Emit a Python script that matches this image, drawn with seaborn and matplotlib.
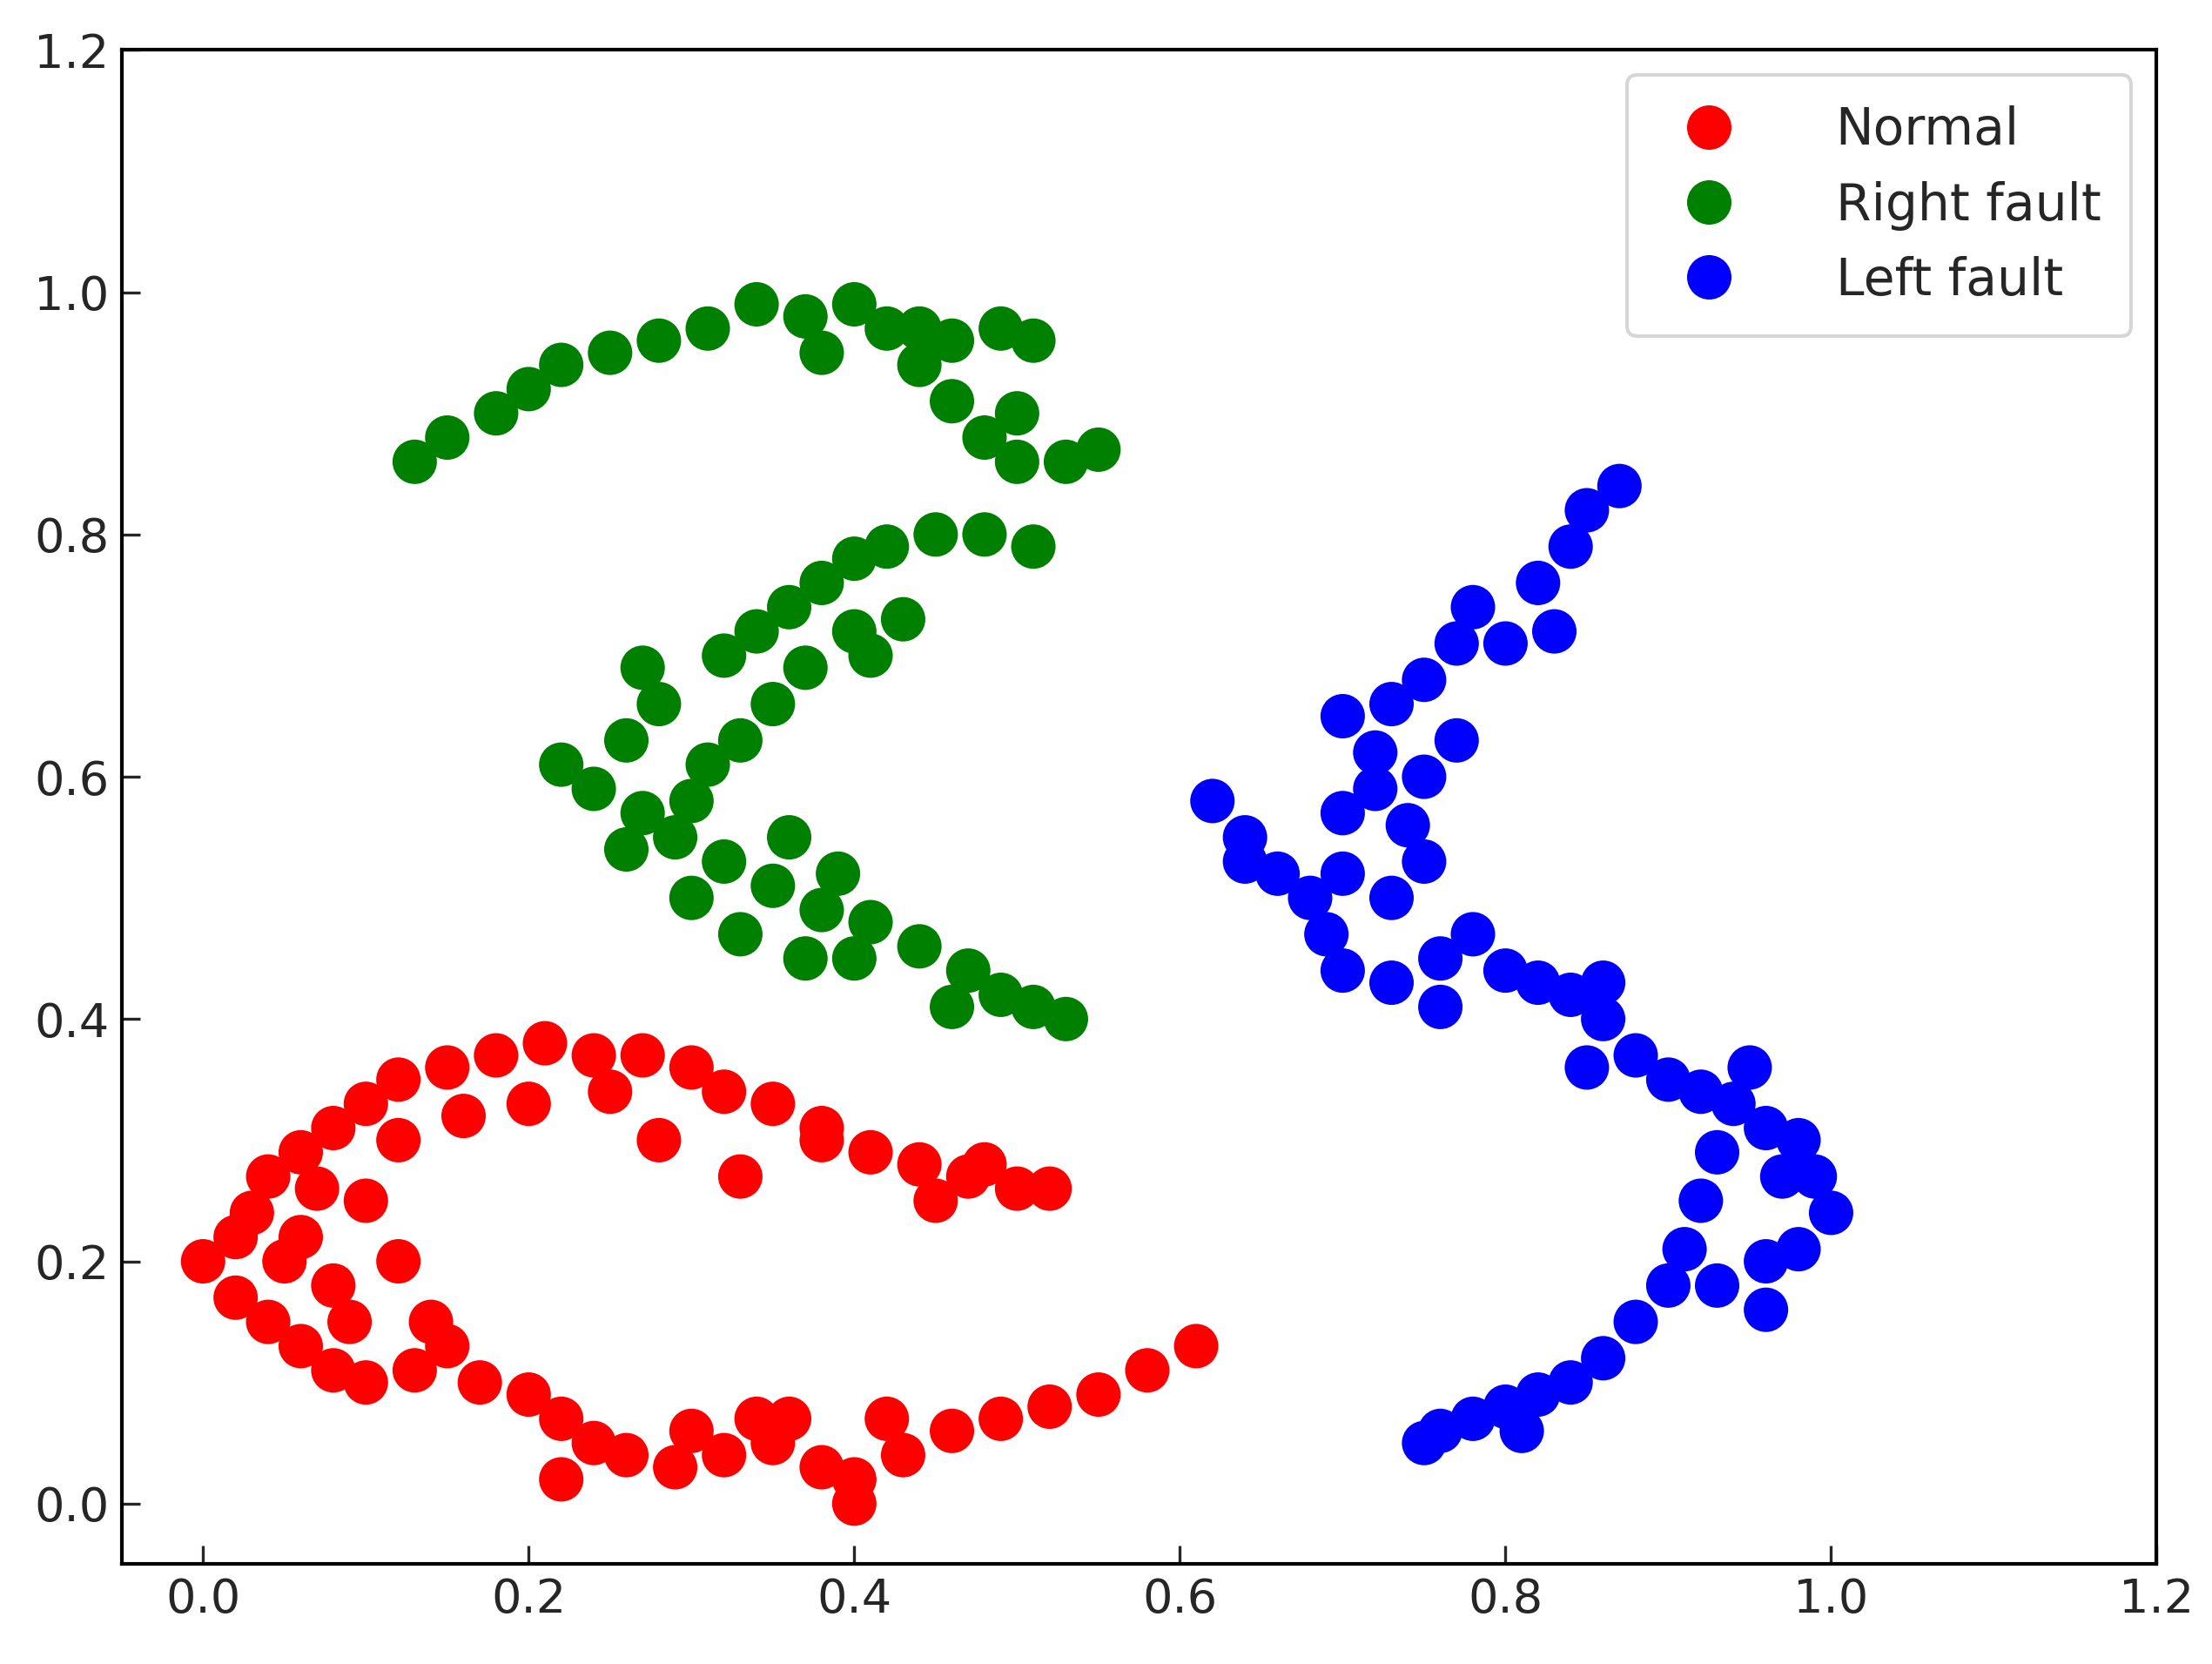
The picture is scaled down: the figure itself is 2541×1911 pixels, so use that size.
import numpy as np
import pandas as pd
import matplotlib
matplotlib.use("Agg")
import matplotlib.pyplot as plt
import seaborn as sns

# points, traced along each band
normal_x = [0.52, 0.50, 0.47, 0.44, 0.41, 0.38, 0.35, 0.32, 0.30, 0.27, 0.24, 0.21, 0.18, 0.15, 0.12,
            0.10, 0.08, 0.06, 0.04, 0.03, 0.02, 0.00, 0.02, 0.04, 0.06, 0.08, 0.10, 0.13, 0.15, 0.17,
            0.20, 0.22, 0.24, 0.26, 0.29, 0.32, 0.35, 0.38, 0.40, 0.43, 0.46, 0.49, 0.52, 0.55, 0.58,
            0.61, 0.06, 0.08, 0.10, 0.12, 0.20, 0.25, 0.22, 0.30, 0.36, 0.40, 0.12, 0.07, 0.33, 0.45,
            0.48, 0.05, 0.16, 0.28, 0.38, 0.14, 0.09, 0.42, 0.34]
normal_y = [0.26, 0.26, 0.27, 0.28, 0.29, 0.31, 0.33, 0.34, 0.36, 0.37, 0.37, 0.38, 0.37, 0.36, 0.35,
            0.33, 0.31, 0.29, 0.27, 0.24, 0.22, 0.20, 0.17, 0.15, 0.13, 0.11, 0.10, 0.11, 0.13, 0.10,
            0.09, 0.07, 0.05, 0.04, 0.03, 0.04, 0.05, 0.03, 0.02, 0.04, 0.06, 0.07, 0.08, 0.09, 0.11,
            0.13, 0.22, 0.18, 0.25, 0.30, 0.33, 0.34, 0.02, 0.06, 0.07, 0.00, 0.20, 0.26, 0.27, 0.25,
            0.28, 0.20, 0.32, 0.30, 0.30, 0.15, 0.15, 0.07, 0.07]

right_x = [0.13, 0.15, 0.18, 0.20, 0.22, 0.25, 0.28, 0.31, 0.34, 0.37, 0.40, 0.42, 0.44, 0.46, 0.48,
           0.50, 0.53, 0.55, 0.46, 0.49, 0.51, 0.38, 0.44, 0.50,
           0.51, 0.48, 0.45, 0.42, 0.40, 0.38, 0.36, 0.34, 0.32, 0.40, 0.41, 0.43, 0.37, 0.35, 0.33,
           0.31, 0.28, 0.27, 0.26, 0.22, 0.24, 0.27, 0.29, 0.32, 0.35, 0.38, 0.41, 0.44, 0.47, 0.49,
           0.51, 0.53, 0.30, 0.33, 0.37, 0.26, 0.40, 0.46, 0.30, 0.36, 0.39]
right_y = [0.86, 0.88, 0.90, 0.92, 0.94, 0.95, 0.96, 0.97, 0.99, 0.98, 0.99, 0.97, 0.94, 0.91, 0.88,
           0.86, 0.86, 0.87, 0.96, 0.97, 0.96, 0.95, 0.97, 0.90,
           0.79, 0.80, 0.80, 0.79, 0.78, 0.76, 0.74, 0.72, 0.70, 0.72, 0.70, 0.73, 0.69, 0.66, 0.63,
           0.61, 0.66, 0.69, 0.63, 0.61, 0.59, 0.57, 0.55, 0.53, 0.51, 0.49, 0.48, 0.46, 0.44, 0.42,
           0.41, 0.40, 0.50, 0.47, 0.45, 0.54, 0.45, 0.41, 0.58, 0.55, 0.52]

left_x = [0.87, 0.85, 0.84, 0.82, 0.83, 0.80, 0.78, 0.77, 0.75, 0.73, 0.70, 0.77, 0.75, 0.72, 0.70,
          0.72, 0.62, 0.64, 0.66, 0.68, 0.70, 0.73, 0.75, 0.69, 0.70, 0.73, 0.76, 0.76, 0.78, 0.80,
          0.82, 0.84, 0.86, 0.85, 0.88, 0.90, 0.92, 0.94, 0.96, 0.98, 0.99, 1.00, 0.98, 0.96, 0.95,
          0.93, 0.92, 0.91, 0.90, 0.93, 0.96, 0.88, 0.86, 0.84, 0.82, 0.80, 0.78, 0.76, 0.75, 0.81,
          0.86, 0.64, 0.74, 0.97]
left_y = [0.84, 0.82, 0.79, 0.76, 0.72, 0.71, 0.74, 0.71, 0.68, 0.66, 0.65, 0.63, 0.60, 0.59, 0.57,
          0.62, 0.58, 0.55, 0.52, 0.50, 0.52, 0.50, 0.53, 0.47, 0.44, 0.43, 0.41, 0.45, 0.47, 0.44,
          0.43, 0.42, 0.40, 0.36, 0.37, 0.35, 0.34, 0.33, 0.31, 0.30, 0.27, 0.24, 0.21, 0.20, 0.36,
          0.29, 0.25, 0.21, 0.18, 0.18, 0.16, 0.15, 0.12, 0.10, 0.09, 0.08, 0.07, 0.06, 0.05, 0.06,
          0.43, 0.53, 0.56, 0.27]

labels = ["Normal", "Right fault", "Left fault"]
colors = ["red", "green", "blue"]

df = pd.concat([
    pd.DataFrame({"x": normal_x, "y": normal_y, "cls": labels[0]}),
    pd.DataFrame({"x": right_x, "y": right_y, "cls": labels[1]}),
    pd.DataFrame({"x": left_x, "y": left_y, "cls": labels[2]}),
])

sns.set_style("white")
plt.rcParams['font.family'] = ['DejaVu Sans']

fig, ax = plt.subplots(figsize=(8.47, 6.37), dpi=300)
sns.scatterplot(data=df, x="x", y="y", hue="cls", palette=dict(zip(labels, colors)),
                s=150, edgecolor=None, linewidth=0, ax=ax)

ax.set_xlim(-0.05, 1.2)
ax.set_ylim(-0.05, 1.2)
ax.set_xticks(np.arange(0, 1.21, 0.2))
ax.set_yticks(np.arange(0, 1.21, 0.2))
ax.set_xlabel("")
ax.set_ylabel("")
ax.tick_params(direction="in", length=5, labelsize=13, left=True, bottom=True)
for sp in ax.spines.values():
    sp.set_color("black")
    sp.set_linewidth(1.0)

ax.legend(loc="upper right", fontsize=14, markerscale=1.0, handletextpad=1.5,
          borderpad=0.6, frameon=True)

plt.subplots_adjust(left=0.055, right=0.975, top=0.97, bottom=0.06)
plt.savefig("out.png", dpi=300)
